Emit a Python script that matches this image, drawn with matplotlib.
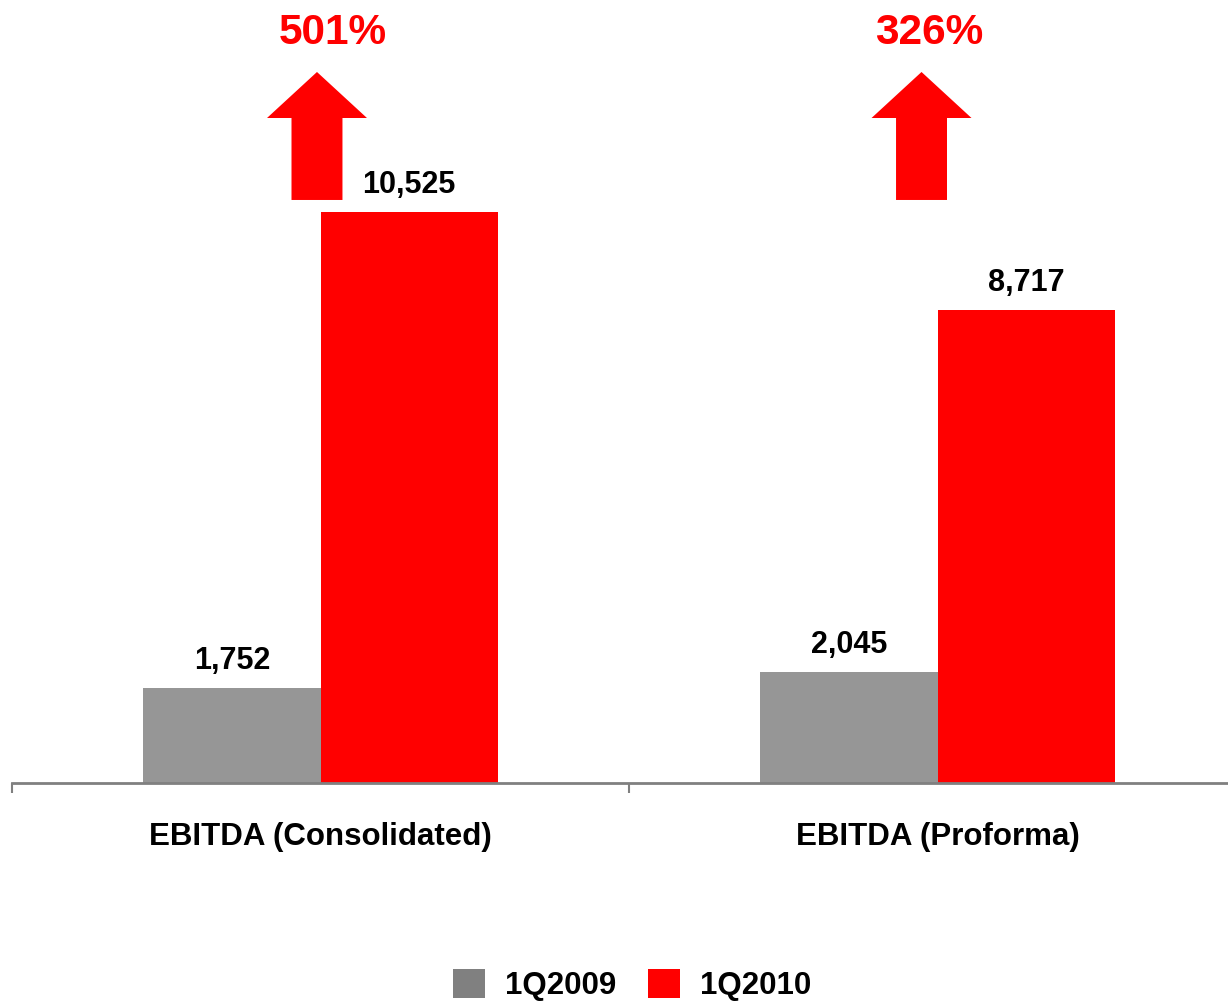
import matplotlib
matplotlib.use("Agg")
import matplotlib.pyplot as plt
from matplotlib.patches import Polygon, Patch

plt.rcParams['font.family'] = ['Liberation Sans', 'DejaVu Sans']

categories = ["EBITDA (Consolidated)", "EBITDA (Proforma)"]
series_names = ["1Q2009", "1Q2010"]
values_2009 = [1752, 2045]
values_2010 = [10525, 8717]
growth_labels = ["501%", "326%"]

gray_bar = "#969696"
gray_leg = "#808080"
red = "#FF0000"

fig = plt.figure(figsize=(12.28, 10.01), dpi=100)
# axes spans from x=12px to 1246px, bottom 783px to top 0px
ax = fig.add_axes([12/1228, (1001-783)/1001, 1234/1228, 783/1001])
ax.set_xlim(-0.5, 1.5)
ax.set_ylim(0, 14433)

w = 0.287
off = 0.1435
xs = range(len(categories))
b1 = ax.bar([x - off for x in xs], values_2009, width=w, color=gray_bar, zorder=2)
b2 = ax.bar([x + off for x in xs], values_2010, width=w, color=red, zorder=2)

for bars, vals in ((b1, values_2009), (b2, values_2010)):
    for r, v in zip(bars, vals):
        ax.annotate(f"{v:,}", (r.get_x() + r.get_width()/2, r.get_height()),
                    xytext=(0, 14), textcoords="offset points",
                    ha="center", va="baseline", fontsize=22, fontweight="bold",
                    color="black")

# arrows and growth labels
arrow_dx = [-0.0057, -0.0259]
text_dx = [0.020, -0.014]
for i, (adx, tdx, lab) in enumerate(zip(arrow_dx, text_dx, growth_labels)):
    cx = i + adx
    hw, sw = 0.081, 0.0413
    tip, sh, bot = 13106, 12258, 10747
    poly = Polygon([(cx, tip), (cx + hw, sh), (cx + sw, sh), (cx + sw, bot),
                    (cx - sw, bot), (cx - sw, sh), (cx - hw, sh)],
                   closed=True, facecolor=red, edgecolor="none", clip_on=False)
    ax.add_patch(poly)
    ax.text(i + tdx, 13622, lab, ha="center", va="baseline", fontsize=30.5,
            fontweight="bold", color=red)

# category labels
for i, c in enumerate(categories):
    ax.text(i, -1143, c, ha="center", va="baseline", fontsize=22.5,
            fontweight="bold", color="black", clip_on=False)

for s in ("top", "right", "left"):
    ax.spines[s].set_visible(False)
ax.spines["bottom"].set_color(gray_leg)
ax.spines["bottom"].set_linewidth(2)
ax.set_yticks([])
ax.set_xticks([])
ax.set_xticks([-0.5, 0.5, 1.5], minor=True)
ax.tick_params(axis="x", which="minor", length=7, width=1.5, color=gray_leg)
ax.set_xticklabels([], minor=True)

handles = [Patch(facecolor=gray_leg, edgecolor="none"),
           Patch(facecolor=red, edgecolor="none")]
fig.legend(handles, series_names, loc="lower center", bbox_to_anchor=(632/1228, 0.0),
           ncol=2, frameon=False, prop={"size": 22.5, "weight": "bold"},
           handlelength=1.02, handleheight=1.02, handletextpad=0.64,
           columnspacing=1.0, borderpad=0.0, borderaxespad=0.0)

fig.savefig("out.png", dpi=100)
